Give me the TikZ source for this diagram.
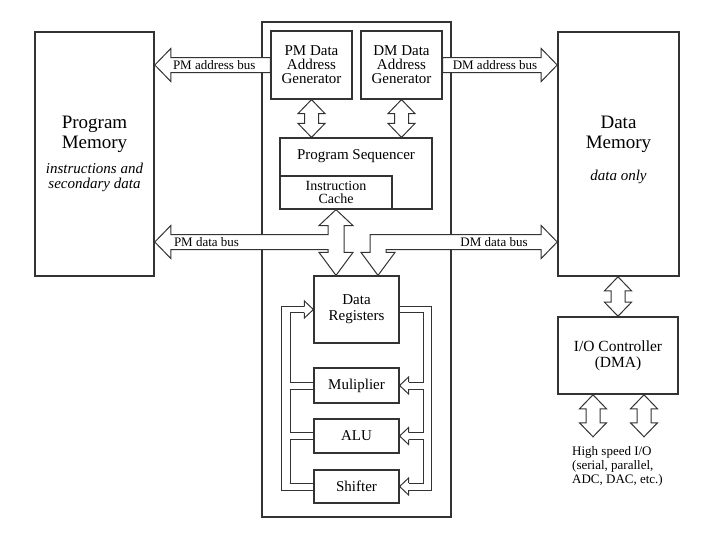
\documentclass[tikz,border=0pt]{standalone}
\usepackage{fontspec}
\setmainfont{Liberation Serif}
\usetikzlibrary{calc}
\tikzset{
  membox/.style={
    draw=black!80,
    line width=1.6pt,
    fill=white,
    inner sep=0pt,
  },
  unitbox/.style={
    draw=black!80,
    line width=1.2pt,
    fill=white,
    inner sep=0pt,
    align=center,
    font=\fontsize{15}{14}\selectfont,
  },
  bigname/.style={
    align=center,
    inner sep=0pt,
    font=\fontsize{19}{20}\selectfont,
  },
  note/.style={
    align=center,
    inner sep=0pt,
    font=\itshape\fontsize{15}{15}\selectfont,
  },
  buslbl/.style={
    inner sep=0pt,
    font=\fontsize{13}{13}\selectfont,
  },
  bus/.style={
    draw=black!80,
    line width=1pt,
    fill=white,
    line join=miter,
  },
  % fat one-headed bus, tail at start, tip at target
  hbus/.style={
    bus,
    to path={let \p1=(\tikztostart), \p2=(\tikztotarget), \n1={sign(\x2-\x1)} in
      ({\x1},{\y2+7.5pt}) -- ({\x2-(\n1)*16pt},{\y2+7.5pt})
      -- ({\x2-(\n1)*16pt},{\y2+16.5pt}) -- (\x2,\y2)
      -- ({\x2-(\n1)*16pt},{\y2-16.5pt}) -- ({\x2-(\n1)*16pt},{\y2-7.5pt})
      -- ({\x1},{\y2-7.5pt}) -- cycle},
  },
  % fat two-headed bus, top to bottom
  vbus/.style={
    bus,
    to path={let \p1=(\tikztostart), \p2=(\tikztotarget) in
      (\x1,\y1) -- ({\x1+13.5pt},{\y1-14pt}) -- ({\x1+7pt},{\y1-14pt})
      -- ({\x1+7pt},{\y2+14pt}) -- ({\x1+13.5pt},{\y2+14pt}) -- (\x1,\y2)
      -- ({\x1-13.5pt},{\y2+14pt}) -- ({\x1-7pt},{\y2+14pt})
      -- ({\x1-7pt},{\y1-14pt}) -- ({\x1-13.5pt},{\y1-14pt}) -- cycle},
  },
  pipe/.style={
    draw=black!80,
    line width=1pt,
  },
  lhead/.pic={\draw[pipe] (9,-3.5) -- (9,-8.5) -- (0,0) -- (9,8.5) -- (9,3.5);},
  rhead/.pic={\draw[pipe] (-9,-3) -- (-9,-8.5) -- (0,0) -- (-9,8.5) -- (-9,3);},
}

\begin{document}
\begin{tikzpicture}[x=1pt, y=-1pt]
  \path[use as bounding box, fill=white] (0,0) rectangle (702,541);

  % Memories and the processor core
  \node[membox, minimum width=189pt, minimum height=495pt] (core) at (356.5,269.5) {};
  \node[membox, minimum width=119pt, minimum height=244pt] (progmem) at (94.5,154) {};
  \node[membox, minimum width=121pt, minimum height=244pt] (datamem) at (618.5,154) {};
  \node[bigname] (pmname) at (94.5,134) {Program\\Memory};
  \node[note] (pmnote) at (94.5,177) {instructions and\\secondary data};
  \node[bigname] (dmname) at (618.5,134) {Data\\Memory};
  \node[note] (dmnote) at (618.5,176.5) {data only};

  % Address generators and sequencer
  \node[unitbox, minimum width=81pt, minimum height=68pt] (pmdag) at (311.5,65) {PM Data\\Address\\Generator};
  \node[unitbox, minimum width=81pt, minimum height=68pt] (dmdag) at (401.5,65) {DM Data\\Address\\Generator};
  \node[unitbox, minimum width=152pt, minimum height=71pt] (seq) at (356,173.5) {};
  \node[unitbox, draw=none, fill=none] (seqlbl) at ($(seq.north)+(0,19)$) {Program Sequencer};
  \node[unitbox, minimum width=112pt, minimum height=33pt, font=\fontsize{14}{13.5}\selectfont] (cache) at (336,192.5) {Instruction\\Cache};

  % Computation units
  \node[unitbox, minimum width=85pt, minimum height=67pt, font=\fontsize{15}{16}\selectfont] (dreg) at (356.5,309.5) {Data\\Registers};
  \node[unitbox, minimum width=85pt, minimum height=35pt] (mult) at (356.5,385.5) {Muliplier};
  \node[unitbox, minimum width=85pt, minimum height=34pt] (alu) at (356.5,436) {ALU};
  \node[unitbox, minimum width=85pt, minimum height=33pt] (shift) at (356.5,486.5) {Shifter};

  % I/O
  \node[membox, align=center, font=\fontsize{15.5}{16}\selectfont, minimum width=120pt, minimum height=77pt] (ioctl) at (618,355.5) {I/O Controller\\(DMA)};
  \node[buslbl, align=left, anchor=north west, font=\fontsize{13}{14}\selectfont] (hsio) at (572,446.5) {High speed I/O\\(serial, parallel,\\ADC, DAC, etc.)};

  % Address buses
  \draw[hbus] (pmdag.west) to (progmem.east |- pmdag.west);
  \draw[hbus] (dmdag.east) to (datamem.west |- dmdag.east);
  \node[buslbl, anchor=west] (pmabus) at ($(progmem.east |- pmdag.west)+(18,0)$) {PM address bus};
  \node[buslbl, anchor=west] (dmabus) at ($(dmdag.east)+(10,0)$) {DM address bus};

  \draw[vbus] (pmdag.south) to (pmdag.south |- seq.north);
  \draw[vbus] (dmdag.south) to (dmdag.south |- seq.north);
  \draw[vbus] (ioctl.north |- datamem.south) to (ioctl.north);

  \coordinate (hsio1) at ($(ioctl.south)+(-25,42)$);
  \coordinate (hsio2) at ($(ioctl.south)+(26,42)$);
  \draw[vbus] (ioctl.south -| hsio1) to (hsio1);
  \draw[vbus] (ioctl.south -| hsio2) to (hsio2);

  % Data buses
  \coordinate (datarow) at (356,242);
  \coordinate (dmdrop) at ($(dreg.north)+(21.5,0)$);

  \draw[bus] (cache.south) -- ++(17,16) -- ++(-9,0)
    -- ($(cache.south |- dreg.north)+(8,-23)$) -- ++(9,0) -- (cache.south |- dreg.north)
    -- ++(-17,-23) -- ++(9,0) -- ($(cache.south |- datarow)+(-8,7.5)$)
    -- ($(progmem.east |- datarow)+(16,7.5)$) -- ++(0,9) -- (progmem.east |- datarow)
    -- ++(16,-16.5) -- ++(0,9) -- ($(cache.south |- datarow)+(-8,-7.5)$)
    -- ($(cache.south)+(-8,16)$) -- ++(-9,0) -- cycle;

  \draw[bus] (datamem.west |- datarow) -- ++(-16,-16.5) -- ++(0,9)
    -- ($(dmdrop |- datarow)+(-8,-7.5)$) -- ($(dmdrop)+(-8,-23)$) -- ++(-9,0) -- (dmdrop)
    -- ++(17,-23) -- ++(-9,0) -- ($(dmdrop |- datarow)+(8,7.5)$)
    -- ($(datamem.west |- datarow)+(-16,7.5)$) -- ++(0,9) -- cycle;

  \node[buslbl, anchor=west] (pmdbus) at ($(progmem.east |- datarow)+(19,0)$) {PM data bus};
  \node[buslbl] (dmdbus) at (494,242) {DM data bus};

  % Result paths back to the registers
  \draw[pipe] ($(shift.west)+(0,3.5)$) -| ($(dreg.west)+(-32,-3)$) -- ($(dreg.west)+(-9,-3)$);
  \draw[pipe] ($(mult.west)+(0,-3.5)$) -| ($(dreg.west)+(-23,3)$) -- ($(dreg.west)+(-9,3)$);
  \draw[pipe] ($(mult.west)+(0,3.5)$) -| ($(alu.west)+(-23,-3.5)$) -- ($(alu.west)+(0,-3.5)$);
  \draw[pipe] ($(alu.west)+(0,3.5)$) -| ($(shift.west)+(-23,-3.5)$) -- ($(shift.west)+(0,-3.5)$);
  \pic at (dreg.west) {rhead};

  \draw[pipe] ($(dreg.east)+(0,3)$) -| ($(mult.east)+(24,-3.5)$) -- ($(mult.east)+(9,-3.5)$);
  \draw[pipe] ($(mult.east)+(9,3.5)$) -| ($(alu.east)+(24,-3.5)$) -- ($(alu.east)+(9,-3.5)$);
  \draw[pipe] ($(alu.east)+(9,3.5)$) -| ($(shift.east)+(24,-3.5)$) -- ($(shift.east)+(9,-3.5)$);
  \draw[pipe] ($(shift.east)+(9,3.5)$) -| ($(dreg.east)+(32,-3)$) -- ($(dreg.east)+(0,-3)$);
  \pic at (mult.east) {lhead};
  \pic at (alu.east) {lhead};
  \pic at (shift.east) {lhead};
\end{tikzpicture}
\end{document}
